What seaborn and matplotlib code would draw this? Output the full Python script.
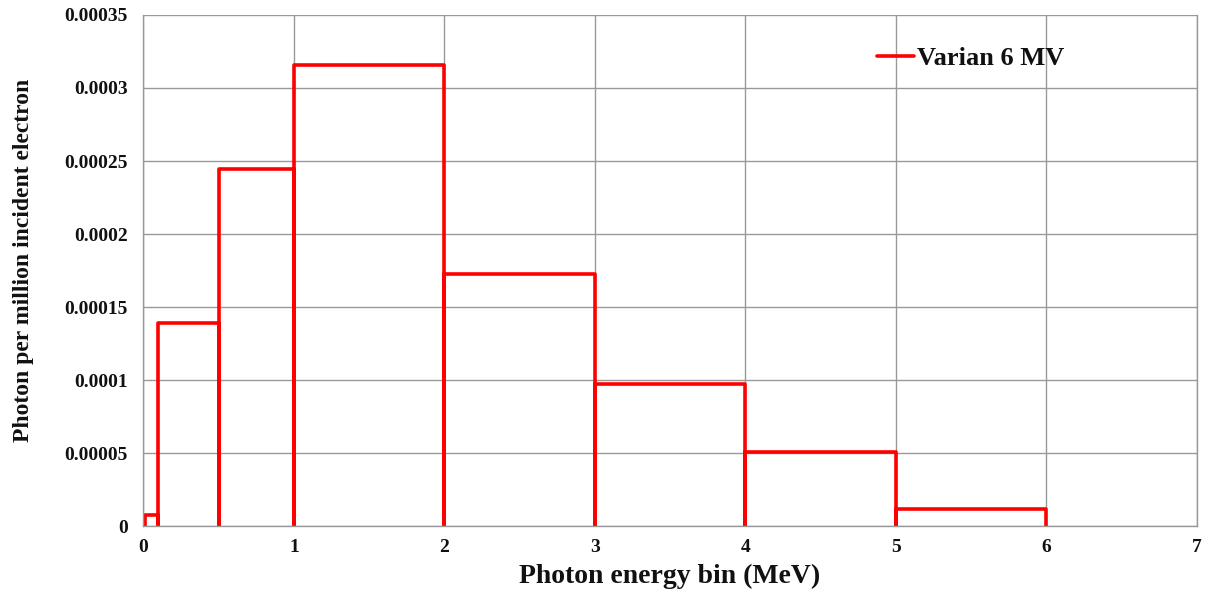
import numpy as np
import pandas as pd
import matplotlib
matplotlib.use("Agg")
import matplotlib.pyplot as plt
import seaborn as sns

# Data
bin_lo = [0.01, 0.1, 0.5, 1, 2, 3, 4, 5]
bin_hi = [0.1, 0.5, 1, 2, 3, 4, 5, 6]
photons = [0.0000078, 0.000139, 0.0002445, 0.0003158, 0.0001726, 0.0000975, 0.0000508, 0.0000118]
series_name = "Varian 6 MV"
x_ticks = [0, 1, 2, 3, 4, 5, 6, 7]
y_ticks = [0, 0.00005, 0.0001, 0.00015, 0.0002, 0.00025, 0.0003, 0.00035]
y_labels = ["0", "0.00005", "0.0001", "0.00015", "0.0002", "0.00025", "0.0003", "0.00035"]

# Build outline path (each bin drawn up from zero, across, down to zero)
xs, ys = [], []
for lo, hi, v in zip(bin_lo, bin_hi, photons):
    xs += [lo, lo, hi, hi]
    ys += [0, v, v, 0]
df = pd.DataFrame({"x": xs, "y": ys, "s": series_name})

sns.set_style("white")
plt.rcParams["font.family"] = ["Liberation Serif", "DejaVu Serif"]
plt.rcParams["font.weight"] = "bold"
plt.rcParams["text.color"] = "#111111"

fig = plt.figure(figsize=(12.15, 5.96), dpi=100)
ax = fig.add_axes([0.118, 0.117, 0.867, 0.858])

sns.lineplot(data=df, x="x", y="y", hue="s", palette=["#ff0000"], sort=False,
             estimator=None, linewidth=2.6, ax=ax)

ax.set_xlim(0, 7)
ax.set_ylim(0, 0.00035)
ax.set_xticks(x_ticks)
ax.set_xticklabels([str(t) for t in x_ticks], fontsize=14, fontweight="bold", color="#111111")
ax.set_yticks(y_ticks)
ax.set_yticklabels(y_labels, fontsize=14, fontweight="bold", color="#111111")
ax.grid(True, color="#999999", linewidth=1.0)
ax.set_axisbelow(True)
ax.spines["top"].set_visible(False)
for s in ["left", "bottom", "right"]:
    ax.spines[s].set_color("#999999")
    ax.spines[s].set_linewidth(1.0)
ax.tick_params(axis="both", direction="out", length=5, color="#888888", width=1, pad=6)
ax.tick_params(axis="x", direction="inout", length=8, pad=5)

ax.set_xlabel("Photon energy bin (MeV)", fontsize=20, fontweight="bold", color="#111111")
ax.xaxis.set_label_coords(0.5, -0.074)
ax.set_ylabel("Photon per million incident electron", fontsize=17, fontweight="bold", color="#111111")
ax.yaxis.set_label_coords(-0.104, 0.52)

leg = ax.legend(loc="upper left", bbox_to_anchor=(0.674, 0.985), frameon=False,
                prop={"family": "Liberation Serif", "weight": "bold", "size": 19},
                handlelength=1.4, handletextpad=0.1)
for line in leg.get_lines():
    line.set_linewidth(2.6)

fig.savefig("out.png", dpi=100)
